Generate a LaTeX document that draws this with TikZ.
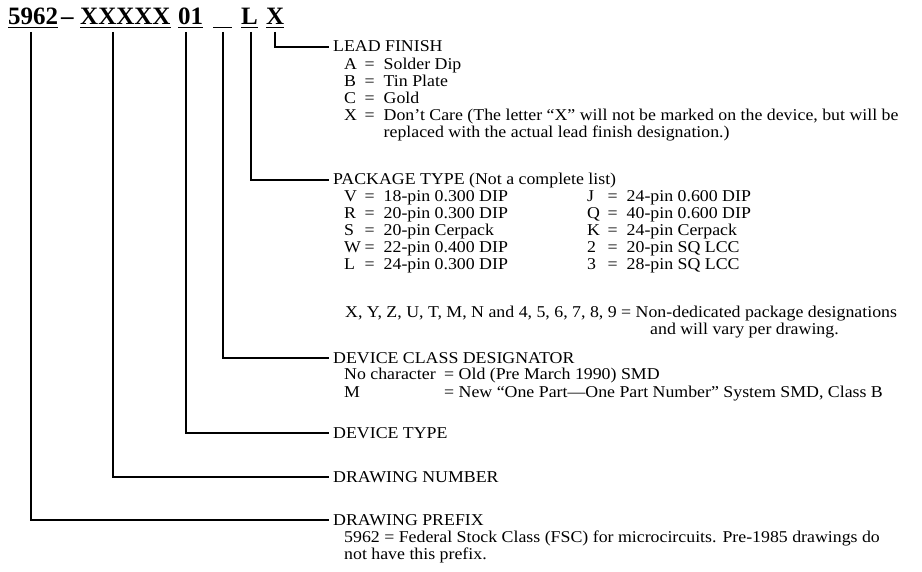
\documentclass[tikz,border=0pt]{standalone}
\usepackage{fontspec}
\setmainfont{Liberation Serif}
\newfontfamily\bodyfont{Liberation Serif}[FakeStretch=1.08]
\newcommand{\kv}[2]{\makebox[20.5pt][l]{#1}\makebox[19pt][l]{=}#2}
\begin{document}
\begin{tikzpicture}[x=1pt,y=-1pt,
  conn/.style={line width=1.5pt},
  ul/.style={line width=1.5pt},
  hdr/.style={anchor=base west, inner sep=0pt, font=\fontsize{25}{25}\selectfont\bfseries},
  lbl/.style={anchor=base west, inner sep=0pt, font=\bodyfont\fontsize{16.5}{17}\selectfont}]
\useasboundingbox (0,0) rectangle (922,572);
% header
\node[hdr] (h1) at (8,25) {5962};
\node[hdr] (hd) at (61,25) {–};
\node[hdr] (h2) at (80,25) {XXXXX};
\node[hdr] (h3) at (178,25) {01};
\node[hdr] (h4) at (213,25) {\makebox[19pt]{}};
\node[hdr] (h5) at (241,25) {L};
\node[hdr] (h6) at (266,25) {X};
\foreach \n in {h1,h2,h3,h4,h5,h6}
  \draw[ul] ([yshift=-2.5pt]\n.base west) -- ([yshift=-2.5pt]\n.base east);
% connector tops
\coordinate (t1) at (31,32);
\coordinate (t2) at (113,32);
\coordinate (t3) at (186,32);
\coordinate (t4) at (223,32);
\coordinate (t5) at (251,32);
\coordinate (t6) at (275,32);
% LEAD FINISH
\node[lbl] (lead) at (333,52) {LEAD FINISH};
\node[lbl] (la) at (344,70) {\kv{A}{Solder Dip}};
\node[lbl] (lb) at (344,87) {\kv{B}{Tin Plate}};
\node[lbl] (lc) at (344,104) {\kv{C}{Gold}};
\node[lbl] (lx) at (344,121) {\kv{X}{Don’t Care (The letter “X” will not be marked on the device, but will be}};
\node[lbl] (lx2) at (383.5,138) {replaced with the actual lead finish designation.)};
% PACKAGE TYPE
\node[lbl] (pkg) at (333,185) {PACKAGE TYPE (Not a complete list)};
\node[lbl] (pv) at (344,202) {\kv{V}{18-pin 0.300 DIP}};
\node[lbl] (pr) at (344,219) {\kv{R}{20-pin 0.300 DIP}};
\node[lbl] (ps) at (344,236) {\kv{S}{20-pin Cerpack}};
\node[lbl] (pw) at (344,253) {\kv{W}{22-pin 0.400 DIP}};
\node[lbl] (pl) at (344,270) {\kv{L}{24-pin 0.300 DIP}};
\node[lbl] (pj) at (587,202) {\kv{J}{24-pin 0.600 DIP}};
\node[lbl] (pq) at (587,219) {\kv{Q}{40-pin 0.600 DIP}};
\node[lbl] (pk) at (587,236) {\kv{K}{24-pin Cerpack}};
\node[lbl] (p2) at (587,253) {\kv{2}{20-pin SQ LCC}};
\node[lbl] (p3) at (587,270) {\kv{3}{28-pin SQ LCC}};
\node[lbl] (pn) at (345,318) {X, Y, Z, U, T, M, N and 4, 5, 6, 7, 8, 9 = Non-dedicated package designations};
\node[lbl] (pn2) at (650,335) {and will vary per drawing.};
% DEVICE CLASS
\node[lbl] (dcls) at (333,363) {DEVICE CLASS DESIGNATOR};
\node[lbl] (dc1) at (344,380) {\makebox[100pt][l]{No character}= Old (Pre March 1990) SMD};
\node[lbl] (dc2) at (344,397) {\makebox[100pt][l]{M}= New “One Part—One Part Number” System SMD, Class B};
% DEVICE TYPE
\node[lbl] (dtyp) at (333,438) {DEVICE TYPE};
% DRAWING NUMBER
\node[lbl] (dnum) at (333,482) {DRAWING NUMBER};
% DRAWING PREFIX
\node[lbl] (dpre) at (333,525) {DRAWING PREFIX};
\node[lbl] (dp1) at (344,542) {5962 = Federal Stock Class (FSC) for microcircuits. Pre-1985 drawings do};
\node[lbl] (dp2) at (344,559) {not have this prefix.};
% connectors
\draw[conn] (t6) |- ([xshift=-4pt,yshift=5pt]lead.base west);
\draw[conn] (t5) |- ([xshift=-4pt,yshift=5pt]pkg.base west);
\draw[conn] (t4) |- ([xshift=-4pt,yshift=5pt]dcls.base west);
\draw[conn] (t3) |- ([xshift=-4pt,yshift=5pt]dtyp.base west);
\draw[conn] (t2) |- ([xshift=-4pt,yshift=5pt]dnum.base west);
\draw[conn] (t1) |- ([xshift=-4pt,yshift=5pt]dpre.base west);
\end{tikzpicture}
\end{document}
